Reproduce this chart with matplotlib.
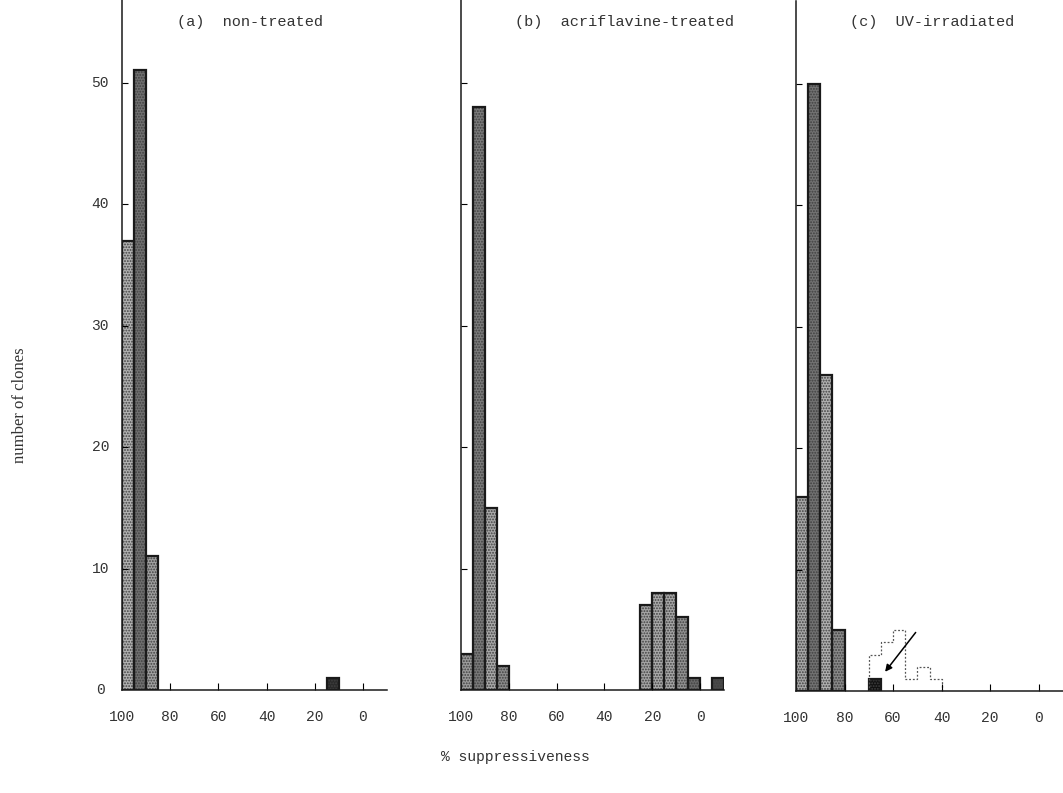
import matplotlib.pyplot as plt

# % suppressiveness bins (lower edge, width 5) and clone counts
a_lo = [95, 90, 85, 10]
a_counts = [37, 51, 11, 1]

b_lo = [95, 90, 85, 80, 20, 15, 10, 5, 0, -10]
b_counts = [3, 48, 15, 2, 7, 8, 8, 6, 1, 1]

c_lo = [95, 90, 85, 80, 65]
c_counts = [16, 50, 26, 5, 1]
# open (dotted) histogram in panel (c)
c_open_edges = [40, 45, 50, 55, 60, 65, 70]
c_open_counts = [1, 2, 1, 5, 4, 3]

titles = ["(a)  non-treated", "(b)  acriflavine-treated", "(c)  UV-irradiated"]
xticks = [100, 80, 60, 40, 20, 0]
yticks = [10, 20, 30, 40, 50]

# shade of each bar (stippled grey, darker for the narrow dark ones)
a_shade = ["#b2b2b2", "#707070", "#a0a0a0", "#2a2a2a"]
b_shade = ["#9c9c9c", "#7a7a7a", "#a8a8a8", "#8c8c8c", "#a4a4a4",
           "#aaaaaa", "#a6a6a6", "#929292", "#6a6a6a", "#4a4a4a"]
c_shade = ["#a8a8a8", "#727272", "#b0b0b0", "#8a8a8a", "#111111"]

MONO = "Liberation Mono"
INK = "#1a1a1a"
plt.rcParams["hatch.linewidth"] = 0.9

fig = plt.figure(figsize=(10.63, 7.93), dpi=100)
W, H = 1063, 793
rects = [[122 / W, 1 - 690 / H, 265 / W, 690 / H],
         [461 / W, 1 - 690 / H, 263 / W, 690 / H],
         [796 / W, 1 - 691 / H, 267 / W, 690 / H]]


def panel(rect, lo, counts, shades, show_ylabels):
    ax = fig.add_axes(rect)
    ax.bar(lo, counts, width=5, align="edge", color=shades, edgecolor="none")
    ax.bar(lo, counts, width=5, align="edge", fill=False, hatch="......",
           edgecolor="#404040", linewidth=0)
    ax.bar(lo, counts, width=5, align="edge", fill=False,
           edgecolor=INK, linewidth=1.6)
    ax.set_xlim(100, -10)
    ax.set_ylim(0, 56.8)
    for s in ["top", "right"]:
        ax.spines[s].set_visible(False)
    for s in ["left", "bottom"]:
        ax.spines[s].set_linewidth(1.1)
        ax.spines[s].set_color(INK)
    ax.set_xticks(xticks[1:])
    ax.tick_params(axis="x", direction="in", length=5, width=0.8,
                   labelbottom=False)
    ax.set_yticks(yticks)
    ax.tick_params(axis="y", direction="in", length=4, width=0.8,
                   labelleft=False)
    for v in xticks:
        ax.text(v, -2.2, str(v), ha="center", va="center", family=MONO,
                fontsize=10.5, color="#333333", clip_on=False)
    if show_ylabels:
        for v in [0] + yticks:
            ax.text(109, v, str(v), ha="center", va="center", family=MONO,
                    fontsize=10.5, color="#333333", clip_on=False)
    return ax


ax_a = panel(rects[0], a_lo, a_counts, a_shade, True)
ax_b = panel(rects[1], b_lo, b_counts, b_shade, False)
ax_c = panel(rects[2], c_lo, c_counts, c_shade, False)

ax_c.stairs(c_open_counts, c_open_edges, baseline=0, fill=False,
            linestyle=(0, (1.5, 1.5)), color="#555555", linewidth=0.9)
ax_c.annotate("", xy=(64, 1.4), xytext=(50, 5.0),
              arrowprops=dict(arrowstyle="-|>", color="black", lw=1.1,
                              mutation_scale=10))

for x0, t in zip([177, 515, 850], titles):
    fig.text(x0 / W, 1 - 22 / H, t, family=MONO, fontsize=11,
             va="center", color="#333333")

fig.text(20 / W, 1 - 405 / H, "number of clones", rotation=90, ha="center",
         va="center", family="Liberation Serif", fontsize=12, color="#333333")
fig.text(515 / W, 1 - 757 / H, "% suppressiveness", ha="center", va="center",
         family=MONO, fontsize=10.5, color="#333333")

fig.savefig("out.png", dpi=100)
